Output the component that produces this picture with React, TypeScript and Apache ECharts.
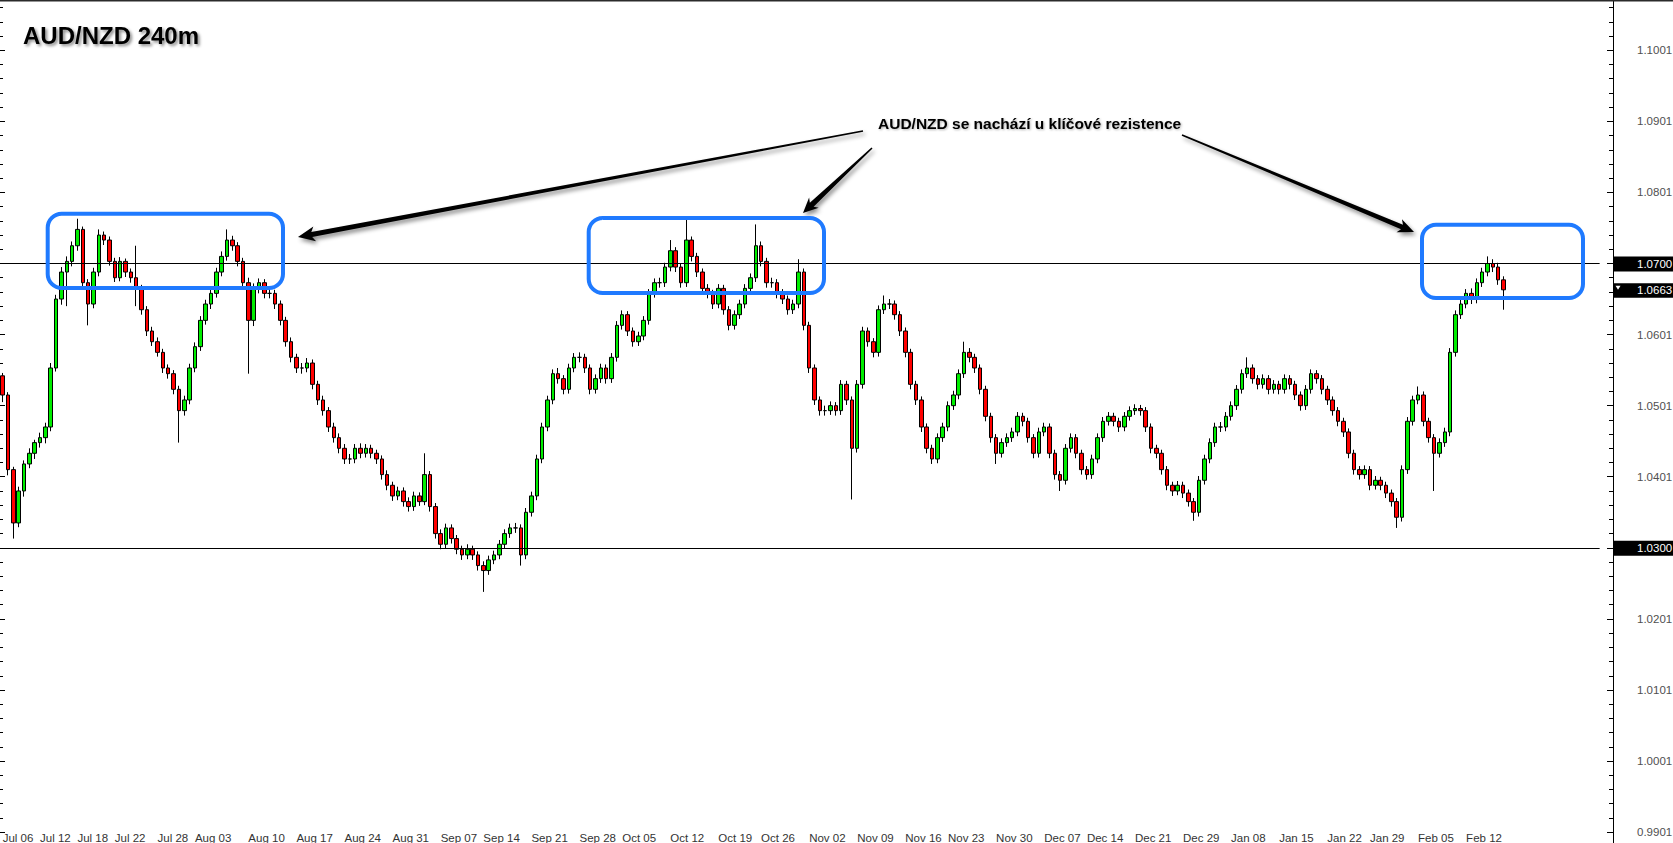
import React, { useEffect, useRef } from "react";
import * as echarts from "echarts";

// Prices in units of 0.0001 above 1.0000 (e.g. 545 = 1.0545), one 240m-style candle per slot
const OPEN = [
  542,515,410,335,380,418,433,448,455,470,
  553,650,688,703,725,748,673,643,688,740,
  733,703,680,703,688,680,665,635,605,590,
  575,553,545,523,493,508,553,583,620,643,
  658,688,710,733,725,703,673,620,665,673,
  658,658,643,620,590,568,553,553,560,530,
  508,493,470,455,440,425,425,440,433,440,
  433,425,403,388,373,380,365,358,373,365,
  403,358,320,305,328,313,298,290,298,290,
  275,268,283,290,305,320,328,328,290,350,
  373,425,470,508,545,538,523,553,568,568,
  553,523,538,553,538,568,613,628,605,590,
  598,620,658,673,673,695,718,695,673,733,
  710,688,665,658,643,665,635,613,628,643,
  665,680,725,703,673,673,658,650,635,643,
  688,613,553,508,493,493,500,493,530,508,
  440,530,605,590,575,635,643,643,628,605,
  575,530,508,470,440,425,455,470,500,515,
  545,575,568,553,523,485,455,433,448,455,
  463,485,478,455,433,463,470,433,403,395,
  440,455,433,410,403,425,455,478,485,478,
  470,485,493,496,493,470,440,433,410,388,
  380,388,377,365,350,395,425,448,470,470,
  485,500,523,545,553,538,530,538,523,530,
  523,538,530,515,500,523,545,538,523,508,
  493,478,463,433,410,403,410,388,395,388,
  377,365,343,410,478,508,515,478,455,433,
  448,463,575,628,643,658,650,673,688,700,
  695,677
];
const CLOSE = [
  515,410,335,380,418,433,448,455,470,553,
  650,688,703,725,748,673,643,688,740,733,
  703,680,703,688,680,665,635,605,590,575,
  553,545,523,493,508,553,583,620,643,658,
  688,710,733,725,703,673,620,665,673,658,
  658,643,620,590,568,553,553,560,530,508,
  493,470,455,440,425,425,440,433,440,433,
  425,403,388,373,380,365,358,373,365,403,
  358,320,305,328,313,298,290,298,290,275,
  268,283,290,305,320,328,328,290,350,373,
  425,470,508,545,538,523,553,568,568,553,
  523,538,553,538,568,613,628,605,590,598,
  620,658,673,673,695,718,695,673,733,710,
  688,665,658,643,665,635,613,628,643,665,
  680,725,703,673,673,658,650,635,643,688,
  613,553,508,493,493,500,493,530,508,440,
  530,605,590,575,635,643,643,628,605,575,
  530,508,470,440,425,455,470,500,515,545,
  575,568,553,523,485,455,433,448,455,463,
  485,478,455,433,463,470,433,403,395,440,
  455,433,410,403,425,455,478,485,478,470,
  485,493,496,493,470,440,433,410,388,380,
  388,377,365,350,395,425,448,470,470,485,
  500,523,545,553,538,530,538,523,530,523,
  538,530,515,500,523,545,538,523,508,493,
  478,463,433,410,403,410,388,395,388,377,
  365,343,410,478,508,515,478,455,433,448,
  463,575,628,643,658,650,673,688,700,695,
  677,663
];
const HIGH = [
  546,519,414,386,423,440,452,462,476,560,
  656,695,710,731,763,752,678,694,748,745,
  738,708,709,707,693,725,670,640,611,596,
  580,558,550,528,514,559,589,626,649,664,
  694,717,748,739,730,708,680,672,679,678,
  664,663,648,625,596,573,560,567,565,535,
  514,498,476,461,446,432,446,447,446,445,
  438,430,409,393,386,385,371,379,378,433,
  408,363,326,334,333,318,303,305,303,295,
  281,289,296,311,326,334,335,333,356,379,
  431,476,514,551,553,543,559,574,575,573,
  558,544,559,558,574,619,634,633,610,604,
  626,664,679,680,701,733,723,700,763,738,
  715,693,671,663,671,670,640,634,649,671,
  686,755,731,708,680,678,664,655,649,706,
  693,618,558,513,500,506,505,536,535,513,
  536,611,610,595,641,655,650,648,633,610,
  580,535,513,475,445,461,476,506,521,551,
  590,581,573,558,528,490,460,454,461,469,
  491,490,483,460,469,476,475,438,408,446,
  461,460,438,415,431,461,484,491,490,483,
  491,499,502,501,498,475,445,438,415,393,
  394,393,382,370,401,431,454,476,477,491,
  506,529,551,568,558,543,544,543,536,535,
  544,543,535,520,529,551,550,543,528,513,
  498,483,468,438,415,416,415,401,400,393,
  382,370,416,484,514,527,520,483,460,454,
  469,581,634,649,664,665,679,694,710,706,
  701,682
];
const LOW = [
  505,402,313,329,372,412,425,441,447,464,
  548,642,640,696,718,667,613,637,682,726,
  697,674,675,681,673,640,628,598,584,569,
  546,538,516,448,486,502,547,577,614,636,
  652,682,704,718,696,666,545,612,658,651,
  651,636,613,583,561,546,545,547,523,501,
  486,463,448,433,418,418,419,426,427,426,
  418,396,381,366,367,358,351,352,359,360,
  351,313,298,299,306,291,283,284,283,268,
  238,262,277,284,299,314,321,275,284,344,
  367,419,464,502,531,516,517,547,561,546,
  516,517,532,531,532,562,607,598,583,584,
  592,614,652,666,667,689,688,666,667,703,
  681,658,651,636,637,628,606,607,622,637,
  659,674,696,666,666,651,643,628,629,637,
  606,546,501,486,486,487,486,487,501,368,
  434,524,583,568,569,629,636,621,598,568,
  523,501,463,433,418,419,449,464,494,509,
  539,561,546,516,478,448,418,427,442,449,
  457,471,448,426,427,457,426,396,380,389,
  434,426,403,396,397,419,449,472,471,463,
  464,479,487,486,463,433,426,403,381,373,
  374,370,358,338,344,389,419,442,463,464,
  479,494,517,539,531,523,524,516,517,516,
  517,523,508,493,494,517,531,516,501,486,
  471,456,426,403,396,397,381,382,381,370,
  358,328,337,404,472,502,471,448,380,427,
  442,457,569,622,637,643,644,667,682,688,
  670,635
];

const TOTAL_SLOTS = 302; // candles + empty right-hand shift
const DATE_LABELS: [number, string][] = [
  [0, "Jul 06"], [7, "Jul 12"], [14, "Jul 18"], [21, "Jul 22"], [29, "Jul 28"],
  [36, "Aug 03"], [46, "Aug 10"], [55, "Aug 17"], [64, "Aug 24"], [73, "Aug 31"],
  [82, "Sep 07"], [90, "Sep 14"], [99, "Sep 21"], [108, "Sep 28"], [116, "Oct 05"],
  [125, "Oct 12"], [134, "Oct 19"], [142, "Oct 26"], [151, "Nov 02"], [160, "Nov 09"],
  [169, "Nov 16"], [177, "Nov 23"], [186, "Nov 30"], [195, "Dec 07"], [203, "Dec 14"],
  [212, "Dec 21"], [221, "Dec 29"], [230, "Jan 08"], [239, "Jan 15"], [248, "Jan 22"],
  [256, "Jan 29"], [265, "Feb 05"], [274, "Feb 12"]
];
const LEVELS = [1.07, 1.03];
const LEVEL_LINE_END = "299";
const Y_LABEL_RANGE = [0.985, 1.105];
const TITLE = "AUD/NZD 240m";
const NOTE = "AUD/NZD se nachází u klíčové rezistence";

const toPrice = (v: number) => 1 + v / 10000;

function arrowPoints(x1: number, y1: number, x2: number, y2: number, w0: number, w1: number, headLen: number, headHalf: number) {
  const dx = x2 - x1, dy = y2 - y1;
  const len = Math.hypot(dx, dy);
  const ux = dx / len, uy = dy / len;
  const nx = -uy, ny = ux;
  const bx = x2 - ux * headLen, by = y2 - uy * headLen;
  const sx = bx + ux * 3, sy = by + uy * 3;
  return [
    [x1 + nx * w0 / 2, y1 + ny * w0 / 2],
    [sx + nx * w1 / 2, sy + ny * w1 / 2],
    [bx + nx * headHalf, by + ny * headHalf],
    [x2, y2],
    [bx - nx * headHalf, by - ny * headHalf],
    [sx - nx * w1 / 2, sy - ny * w1 / 2],
    [x1 - nx * w0 / 2, y1 - ny * w0 / 2],
  ];
}

export default function App() {
  const ref = useRef<HTMLDivElement>(null);
  useEffect(() => {
    const el = ref.current!;
    const chart = echarts.init(el, undefined, { renderer: "svg" });
    const cats = Array.from({ length: TOTAL_SLOTS }, (_, i) => String(i));
    const labelMap = new Map<number, string>(DATE_LABELS);
    const data = CLOSE.map((c, i) => [toPrice(OPEN[i]), toPrice(c), toPrice(LOW[i]), toPrice(HIGH[i])]);
    const font = "Liberation Sans, Arial, sans-serif";
    const yBase = { type: "value", min: 0.98, max: 1.11, scale: true, splitLine: { show: false } };

    chart.setOption({
      animation: false,
      backgroundColor: "#ffffff",
      grid: { left: 0, width: 1613, top: -20.8, height: 924, outerBoundsMode: "none", containLabel: false },
      xAxis: {
        type: "category",
        data: cats,
        boundaryGap: true,
        offset: -71,
        axisLine: { show: false },
        axisTick: { show: false },
        splitLine: { show: false },
        axisLabel: {
          interval: (index: number) => labelMap.has(index),
          formatter: (_v: string, index: number) => labelMap.get(index) || "",
          align: "left",
          margin: 0,
          color: "#333",
          fontSize: 11.5,
          fontFamily: font,
        },
      },
      yAxis: [
        {
          ...yBase,
          position: "right",
          interval: 0.01,
          axisLine: { show: true, lineStyle: { color: "#000", width: 1 } },
          axisTick: { show: true, inside: true, length: 6, lineStyle: { color: "#000" } },
          axisLabel: {
            margin: 24,
            color: "#505050",
            fontSize: 11.5,
            fontFamily: font,
            formatter: (v: number) =>
              v < Y_LABEL_RANGE[0] || v > Y_LABEL_RANGE[1] ? "" : (v + 0.0001).toFixed(4),
          },
        },
        {
          ...yBase,
          position: "right",
          interval: 0.002,
          axisLine: { show: false },
          axisTick: { show: true, inside: true, length: 4, lineStyle: { color: "#000" } },
          axisLabel: { show: false },
        },
        {
          ...yBase,
          position: "left",
          interval: 0.01,
          axisLine: { show: false },
          axisTick: { show: true, inside: true, length: 5, lineStyle: { color: "#000" } },
          axisLabel: { show: false },
        },
        {
          ...yBase,
          position: "left",
          interval: 0.002,
          axisLine: { show: false },
          axisTick: { show: true, inside: true, length: 3, lineStyle: { color: "#000" } },
          axisLabel: { show: false },
        },
      ],
      series: [
        {
          type: "candlestick",
          yAxisIndex: 0,
          data,
          barWidth: 4,
          itemStyle: {
            color: "#00ee00",
            color0: "#ff0000",
            borderColor: "#000000",
            borderColor0: "#000000",
            borderWidth: 1,
          },
          markLine: {
            silent: true,
            symbol: "none",
            label: { show: false },
            lineStyle: { color: "#000", width: 1, type: "solid" },
            data: LEVELS.map((lv) => [{ coord: ["0", lv] }, { coord: [LEVEL_LINE_END, lv] }]),
          },
        },
      ],
    });

    const yPix = (v: number) => chart.convertToPixel({ yAxisIndex: 0 }, v) as number;
    const lastPrice = toPrice(CLOSE[CLOSE.length - 1]);
    const priceTags: any[] = [];
    LEVELS.forEach((lv) => {
      const y = yPix(lv);
      priceTags.push({ type: "rect", shape: { x: 1613.5, y: y - 7, width: 60, height: 15 }, style: { fill: "#000" }, z: 100 });
      priceTags.push({ type: "text", x: 1637, y: y + 0.5, style: { text: lv.toFixed(4), fill: "#fff", font: `11.5px ${font}`, verticalAlign: "middle" }, z: 101 });
    });
    {
      const y = yPix(lastPrice);
      priceTags.push({ type: "rect", shape: { x: 1613.5, y: y - 6.5, width: 60, height: 14.5 }, style: { fill: "#000" }, z: 100 });
      priceTags.push({ type: "polygon", shape: { points: [[1615.5, y - 4], [1620.5, y - 4], [1618, y]] }, style: { fill: "#fff" }, z: 101 });
      priceTags.push({ type: "text", x: 1637, y: y + 0.5, style: { text: lastPrice.toFixed(4), fill: "#fff", font: `11.5px ${font}`, verticalAlign: "middle" }, z: 101 });
    }

    const arrowStyle = { fill: "#000", shadowBlur: 4, shadowColor: "rgba(0,0,0,0.45)", shadowOffsetX: 2, shadowOffsetY: 3 };
    const boxStyle = { fill: "none", stroke: "#1f7aff", lineWidth: 4 };

    chart.setOption({
      graphic: [
        { type: "rect", shape: { x: 0, y: 0, width: 1673, height: 1.5 }, style: { fill: "#2b2b2b" }, z: 100 },
        {
          type: "text", x: 23, y: 35, z: 100,
          style: {
            text: TITLE, fill: "#000", font: `bold 24px ${font}`, verticalAlign: "middle",
            textShadowColor: "rgba(0,0,0,0.45)", textShadowBlur: 3, textShadowOffsetX: 2, textShadowOffsetY: 2,
          },
        },
        {
          type: "text", x: 878, y: 123, z: 100,
          style: {
            text: NOTE, fill: "#000", font: `bold 15.5px ${font}`, verticalAlign: "middle",
            textShadowColor: "rgba(0,0,0,0.3)", textShadowBlur: 2, textShadowOffsetX: 1, textShadowOffsetY: 1,
          },
        },
        { type: "polygon", z: 90, shape: { points: arrowPoints(863, 131, 298, 237, 1.5, 5, 17, 7.5) }, style: arrowStyle },
        { type: "polygon", z: 90, shape: { points: arrowPoints(872, 148, 803, 213, 1.5, 5.5, 15, 7) }, style: arrowStyle },
        { type: "polygon", z: 90, shape: { points: arrowPoints(1182, 135, 1414, 232, 1.5, 5, 16, 7) }, style: arrowStyle },
        { type: "rect", z: 95, shape: { x: 47.7, y: 213.7, width: 235.3, height: 74.3, r: 14 }, style: boxStyle },
        { type: "rect", z: 95, shape: { x: 588.7, y: 218, width: 235.3, height: 75, r: 14 }, style: boxStyle },
        { type: "rect", z: 95, shape: { x: 1422, y: 224.7, width: 161, height: 73.3, r: 14 }, style: boxStyle },
        ...priceTags,
      ],
    });

    return () => chart.dispose();
  }, []);
  return <div ref={ref} style={{ position: "fixed", left: 0, top: 0, width: 1673, height: 843, background: "#fff" }} />;
}
